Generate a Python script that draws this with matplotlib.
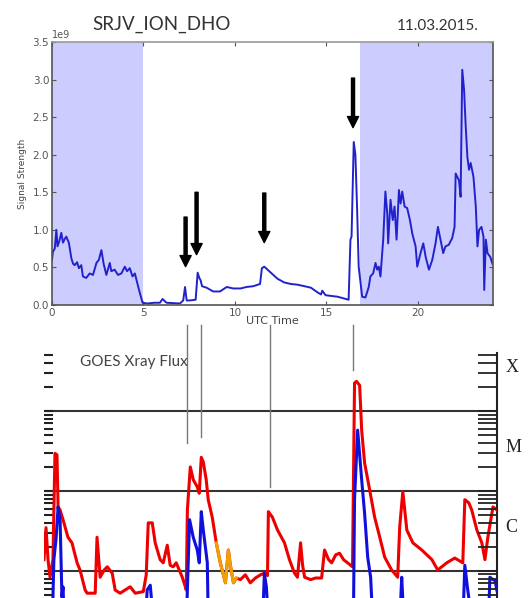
import matplotlib
matplotlib.use("Agg")
import matplotlib.pyplot as plt
import matplotlib.transforms as mtransforms
import numpy as np

# ---------------- data ----------------
title_text = "SRJV_ION_DHO"
date_text = "11.03.2015."
goes_title = "GOES Xray Flux"

sig_t = [0.0, 0.05, 0.15, 0.24, 0.30, 0.40, 0.51, 0.60, 0.70, 0.78, 0.92, 1.06, 1.15, 1.24,
         1.37, 1.47, 1.60, 1.69, 1.87, 2.06, 2.24, 2.43, 2.56, 2.70, 2.82, 2.97, 3.16, 3.24,
         3.42, 3.61, 3.79, 3.98, 4.10, 4.25, 4.40, 4.53, 4.62, 4.80, 4.95, 5.20, 5.60, 5.90,
         6.04, 6.26, 6.99, 7.17, 7.27, 7.36, 7.50, 7.85, 7.96, 8.05, 8.12, 8.20, 8.45, 8.81,
         9.18, 9.55, 9.91, 10.30, 10.64, 11.00, 11.37, 11.47, 11.60, 11.96, 12.32, 12.69,
         13.05, 13.42, 13.80, 14.15, 14.50, 14.70, 14.77, 14.95, 15.30, 15.61, 16.07, 16.21,
         16.31, 16.37, 16.49, 16.58, 16.67, 16.76, 16.95, 17.13, 17.31, 17.40, 17.55, 17.68,
         17.77, 17.86, 17.95, 18.10, 18.22, 18.32, 18.37, 18.50, 18.62, 18.72, 18.83, 18.96,
         19.05, 19.14, 19.27, 19.41, 19.56, 19.69, 19.87, 19.96, 20.14, 20.29, 20.42, 20.60,
         20.78, 20.96, 21.09, 21.23, 21.38, 21.50, 21.68, 21.87, 22.00, 22.06, 22.24, 22.33,
         22.42, 22.52, 22.60, 22.70, 22.79, 22.88, 23.03, 23.16, 23.25, 23.34, 23.47, 23.58,
         23.62, 23.71, 23.80, 23.95, 24.07]
sig_v = [0.60, 0.71, 0.75, 1.00, 0.78, 0.85, 0.96, 0.83, 0.88, 0.91, 0.83, 0.62, 0.55, 0.53,
         0.57, 0.49, 0.53, 0.38, 0.36, 0.42, 0.40, 0.56, 0.60, 0.73, 0.55, 0.40, 0.56, 0.45,
         0.47, 0.40, 0.42, 0.51, 0.45, 0.49, 0.38, 0.42, 0.33, 0.16, 0.03, 0.02, 0.03, 0.03,
         0.08, 0.03, 0.02, 0.06, 0.24, 0.06, 0.06, 0.07, 0.43, 0.36, 0.33, 0.25, 0.23, 0.18,
         0.18, 0.24, 0.22, 0.22, 0.24, 0.25, 0.28, 0.49, 0.51, 0.43, 0.35, 0.30,
         0.28, 0.27, 0.25, 0.23, 0.17, 0.14, 0.19, 0.13, 0.12, 0.11, 0.08, 0.07,
         0.87, 0.91, 2.17, 2.00, 1.31, 0.51, 0.11, 0.10, 0.24, 0.38, 0.42, 0.56,
         0.47, 0.51, 0.38, 0.87, 1.51, 1.22, 0.82, 1.40, 1.13, 1.31, 0.87, 1.53,
         1.35, 1.51, 1.31, 1.29, 1.13, 0.95, 0.78, 0.51, 0.69, 0.82, 0.64, 0.47,
         0.60, 0.82, 1.04, 0.87, 0.69, 0.78, 0.80, 0.89, 1.04, 1.75, 1.66, 1.44,
         3.13, 2.86, 2.42, 1.97, 1.80, 1.89, 1.71, 1.31, 0.78, 1.00, 1.04, 0.91,
         0.20, 0.87, 0.69, 0.64, 0.55]

night_spans = [(0.0, 5.0), (16.85, 24.1)]
arrow_t = [7.3, 7.9, 11.6, 16.45]
arrow_top = [1.17, 1.50, 1.49, 3.02]
arrow_tip = [0.51, 0.67, 0.83, 2.36]

goes_t = [-0.46, -0.35, -0.24, -0.13, 0.03, 0.14, 0.25, 0.31, 0.42, 0.58, 0.85, 1.07, 1.35, 1.51,
          1.79, 1.90, 2.34, 2.44, 2.61, 2.83, 3.00, 3.27, 3.43, 3.70, 4.25, 4.53, 4.97, 5.13,
          5.24, 5.46, 5.62, 5.89, 6.06, 6.28, 6.44, 6.60, 6.77, 7.10, 7.27, 7.32, 7.38, 7.54,
          7.70, 7.92, 8.03, 8.14, 8.25, 8.41, 8.52, 8.74, 8.96, 9.18, 9.46, 9.62, 9.73, 9.90,
          10.06, 10.28, 10.55, 10.82, 11.10, 11.38, 11.59, 11.76, 11.81, 12.03, 12.31, 12.69,
          12.96, 13.24, 13.40, 13.57, 13.68, 13.79, 14.12, 14.39, 14.72, 14.88, 15.10, 15.27,
          15.49, 15.70, 15.92, 16.14, 16.41, 16.52, 16.63, 16.80, 16.91, 17.07, 17.35, 17.62,
          17.90, 18.17, 18.55, 18.88, 18.99, 19.16, 19.38, 19.71, 20.20, 20.75, 21.07, 21.56,
          22.00, 22.44, 22.55, 22.77, 22.93, 23.21, 23.48, 23.65, 23.81, 24.09, 24.31]
goes_long_log = [-5.86, -5.46, -5.86, -6.08, -5.86, -4.53, -4.55, -5.20, -5.24, -5.36, -5.58, -5.65,
                 -5.90, -5.99, -6.24, -6.28, -6.28, -5.58, -6.08, -5.99, -5.95, -6.03, -6.24, -6.28,
                 -6.20, -6.28, -6.26, -6.05, -5.40, -5.40, -5.65, -5.86, -5.90, -5.68, -5.93, -5.95,
                 -5.90, -6.08, -6.20, -6.24, -5.24, -4.70, -4.86, -4.95, -5.03, -4.58, -4.64, -4.86,
                 -5.11, -5.33, -5.65, -5.90, -6.15, -5.74, -5.93, -6.15, -6.09, -6.11, -6.05, -6.15,
                 -6.09, -6.05, -6.03, -6.06, -5.26, -5.33, -5.49, -5.65, -5.86, -6.03, -6.08, -5.65,
                 -5.93, -6.08, -6.11, -6.09, -6.09, -5.74, -5.86, -5.90, -5.80, -5.78, -5.86, -5.90,
                 -5.95, -3.65, -3.63, -3.68, -4.24, -4.65, -4.99, -5.33, -5.58, -5.83, -5.99, -6.08,
                 -5.45, -5.01, -5.49, -5.65, -5.74, -5.86, -5.99, -5.90, -5.84, -5.90, -5.11, -5.15,
                 -5.24, -5.49, -5.65, -5.86, -5.58, -5.20, -5.24]
orange_window = (8.96, 10.06)

short_t = [-0.46, 0.00, 0.08, 0.20, 0.31, 0.42, 0.52, 0.58, 0.64, 5.10, 5.18, 5.35, 5.51, 7.33,
           7.50, 7.70, 7.92, 8.03, 8.14, 8.25, 8.47, 8.52, 11.50, 11.59, 11.70, 11.80, 16.46,
           16.52, 16.69, 16.91, 17.07, 17.24, 17.40, 17.51, 19.00, 19.10, 19.21, 22.45, 22.55,
           22.71, 22.93, 23.85, 23.92, 24.09, 24.20, 24.31]
short_log = [-6.6, -6.6, -5.86, -5.6, -5.20, -5.36, -6.33, -6.20, -6.6, -6.6, -6.24, -6.18, -6.6,
             -6.6, -5.36, -5.58, -5.74, -5.90, -5.26, -5.49, -5.90, -6.6, -6.6, -6.03, -6.20,
             -6.6, -6.6, -5.11, -4.24, -4.86, -5.28, -5.83, -6.08, -6.6, -6.6, -6.08, -6.6,
             -6.6, -5.93, -6.24, -6.6, -6.6, -6.08, -6.11, -6.12, -6.25]

class_levels = [1e-4, 1e-5, 1e-6]
class_labels = ["X", "M", "C"]
class_label_pos = [10**-3.46, 10**-4.46, 10**-5.46]

conn_t = [7.35, 8.15, 11.9, 16.45]
conn_end_log = [-4.40, -4.33, -4.95, -3.49]
conn_top_log = -2.925

# ---------------- figure ----------------
W, H = 528, 598
fig = plt.figure(figsize=(W / 100, H / 100), dpi=100)

# top panel
ax1 = fig.add_axes([52 / W, 1 - 305 / H, 441 / W, 263 / H])
for a, b in night_spans:
    ax1.axvspan(a, b, color=(0.8, 0.8, 1.0), lw=0, zorder=0)
ax1.plot(sig_t, np.array(sig_v) * 1e9, color="#2222cc", lw=1.4, zorder=2)
ax1.set_xlim(0, 24.1)
ax1.set_ylim(0, 3.5e9)
ax1.set_xticks([0, 5, 10, 15, 20])
ax1.set_yticks(np.arange(0, 3.51, 0.5) * 1e9)
ax1.tick_params(direction="in", top=True, right=True, length=3, labelsize=7.5,
                labelcolor="#555555", color="#555555", pad=2)
ax1.yaxis.get_offset_text().set_fontsize(7)
ax1.yaxis.get_offset_text().set_color("#555555")
for s in ax1.spines.values():
    s.set_color("#555555")
    s.set_linewidth(1.2)
ax1.spines["top"].set_color("#999999")
ax1.set_xlabel("UTC Time", fontsize=8, color="#444444", labelpad=-1)
ax1.set_ylabel("Signal Strength", fontsize=6.5, color="#444444", labelpad=4)

for t, top, tip in zip(arrow_t, arrow_top, arrow_tip):
    ax1.annotate("", xy=(t, tip * 1e9), xytext=(t, top * 1e9),
                 arrowprops=dict(facecolor="black", edgecolor="black", width=2.2,
                                 headwidth=8, headlength=8, shrink=0.0), zorder=5)

fig.text(92 / W, 1 - 24 / H, title_text, fontsize=13.5, family="Lato", color="#333333",
         va="center", ha="left")
fig.text(397 / W, 1 - 26 / H, date_text, fontsize=11, family="Lato", color="#333333",
         va="center", ha="left")

# bottom panel
ax2 = fig.add_axes([44 / W, 0, 453 / W, 245 / H])
ax2.set_yscale("log")
ax2.set_xlim(-0.46, 24.31)
ax2.set_ylim(10**-6.34, 10**-3.275)
for lev in class_levels:
    ax2.axhline(lev, color="#333333", lw=1.5, zorder=1)

gt = np.array(goes_t)
gl = 10 ** np.array(goes_long_log)
ax2.plot(gt, gl, color="#ee0000", lw=2.2, zorder=3)
m = (gt >= orange_window[0]) & (gt <= orange_window[1])
ax2.plot(gt[m], gl[m], color="#f0a000", lw=2.2, zorder=4)
ax2.plot(short_t, 10 ** np.array(short_log), color="#1010dd", lw=2.2, zorder=5)

for t, e in zip(conn_t, conn_end_log):
    ax2.plot([t, t], [10**e, 10**conn_top_log], color="#777777", lw=1.0, clip_on=False, zorder=2)

for sp in ["top", "bottom", "left"]:
    ax2.spines[sp].set_visible(False)
ax2.spines["right"].set_color("#222222")
ax2.spines["right"].set_linewidth(1.5)
ax2.set_xticks([])
ax2.tick_params(axis="y", which="both", direction="in", left=True, right=False,
                length=6.5, width=1.5, color="#222222", labelleft=False, labelright=False)

ax3 = ax2.twinx()
ax3.set_yscale("log")
ax3.set_ylim(ax2.get_ylim())
for sp in ["top", "bottom", "left", "right"]:
    ax3.spines[sp].set_visible(False)
ax3.tick_params(axis="y", which="both", direction="in", left=False, right=True,
                length=14, width=1.3, color="#222222", labelright=False)

trans = mtransforms.blended_transform_factory(ax2.transAxes, ax2.transData)
for lab, y in zip(class_labels, class_label_pos):
    ax2.text(1.018, y, lab, transform=trans, fontsize=13, family="Liberation Serif",
             va="center", ha="left", color="#222222")

fig.text(80 / W, 1 - 362 / H, goes_title, fontsize=11, family="Lato", color="#444444",
         va="center", ha="left")

fig.savefig("out.png", dpi=100)
